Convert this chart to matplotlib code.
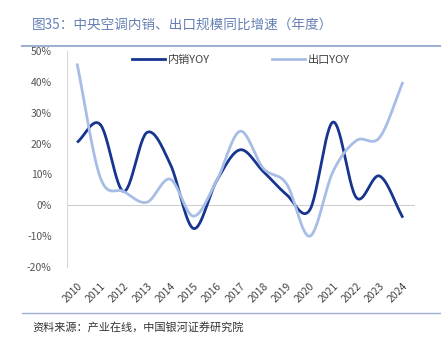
import numpy as np
import matplotlib.pyplot as plt
from matplotlib.lines import Line2D

plt.rcParams['font.family'] = ['Noto Sans CJK SC', 'DejaVu Sans']

# Datos anuales (%)
anios = [2010, 2011, 2012, 2013, 2014, 2015, 2016, 2017, 2018, 2019, 2020, 2021, 2022, 2023, 2024]
ventas_internas = [20.4, 26.2, 4.5, 23.6, 13.5, -7.5, 8.0, 18.0, 11.0, 3.5, -1.5, 27.0, 2.5, 9.5, -4.0]
exportaciones = [46.0, 9.0, 4.5, 1.0, 8.5, -3.5, 8.0, 24.0, 12.0, 7.0, -10.0, 11.0, 21.0, 22.0, 40.0]
etiquetas = ['内销YOY', '出口YOY']
titulo = '图35：中央空调内销、出口规模同比增速（年度）'
fuente = '资料来源：产业在线，中国银河证券研究院'

OSCURO = '#17358f'
CLARO = '#a8bde6'


# Curva suavizada tipo Catmull-Rom entre puntos consecutivos
def suavizar(x, y, n=30):
    x = np.asarray(x, float)
    y = np.asarray(y, float)
    px = np.concatenate([[2 * x[0] - x[1]], x, [2 * x[-1] - x[-2]]])
    py = np.concatenate([[2 * y[0] - y[1]], y, [2 * y[-1] - y[-2]]])
    xs, ys = [], []
    t = np.linspace(0, 1, n)
    for i in range(1, len(px) - 2):
        for p, out in ((px, xs), (py, ys)):
            p0, p1, p2, p3 = p[i - 1], p[i], p[i + 1], p[i + 2]
            out.append(0.5 * ((2 * p1) + (-p0 + p2) * t
                              + (2 * p0 - 5 * p1 + 4 * p2 - p3) * t ** 2
                              + (-p0 + 3 * p1 - 3 * p2 + p3) * t ** 3))
    return np.concatenate(xs), np.concatenate(ys)


fig = plt.figure(figsize=(4.41, 3.41), dpi=100)
ax = fig.add_axes([0.152, 0.217, 0.789, 0.633])

xs, ys = suavizar(anios, ventas_internas)
ax.plot(xs, ys, color=OSCURO, lw=2.0, solid_capstyle='butt')
xs, ys = suavizar(anios, exportaciones)
ax.plot(xs, ys, color=CLARO, lw=2.0, solid_capstyle='butt')

ax.axhline(0, color='#d0d0d0', lw=0.8, zorder=0)
ax.set_xlim(2009.57, 2024.52)
ax.set_ylim(-20, 50)
ax.set_yticks(range(-20, 51, 10))
ax.set_yticklabels([f'{v}%' for v in range(-20, 51, 10)])
ax.set_xticks(anios)
ax.set_xticklabels([str(a) for a in anios], rotation=45, ha='right',
                   rotation_mode='anchor', fontsize=7.5, color='#444444')
ax.tick_params(axis='y', length=0, labelsize=7.5, labelcolor='#555555', pad=11)
ax.tick_params(axis='x', length=0, pad=10)
for lado in ['top', 'right', 'bottom']:
    ax.spines[lado].set_visible(False)
ax.spines['left'].set_color('#d9d9d9')
ax.spines['left'].set_linewidth(0.8)

manejadores = [Line2D([], [], color=OSCURO, lw=2.0), Line2D([], [], color=CLARO, lw=2.0)]
ax.legend(manejadores, etiquetas, loc='upper center', bbox_to_anchor=(0.5, 1.03),
          ncol=2, frameon=False, fontsize=8, handlelength=3.0, columnspacing=5.5,
          handletextpad=0.3, labelcolor='#404040')

# Título y líneas de encabezado / pie
fig.text(32 / 441, 1 - 26 / 341, titulo, fontsize=9.8, color='#6680b5', va='center')
fig.add_artist(Line2D([22 / 441, 1], [1 - 46 / 341] * 2, color='#9fb0d2', lw=1.5))
fig.add_artist(Line2D([22 / 441, 1], [1 - 313 / 341] * 2, color='#9fb0d2', lw=1.0))
fig.text(32 / 441, 1 - 327 / 341, fuente, fontsize=8, color='#333333',
         va='center', style='italic')

fig.savefig('out.png', dpi=100)
